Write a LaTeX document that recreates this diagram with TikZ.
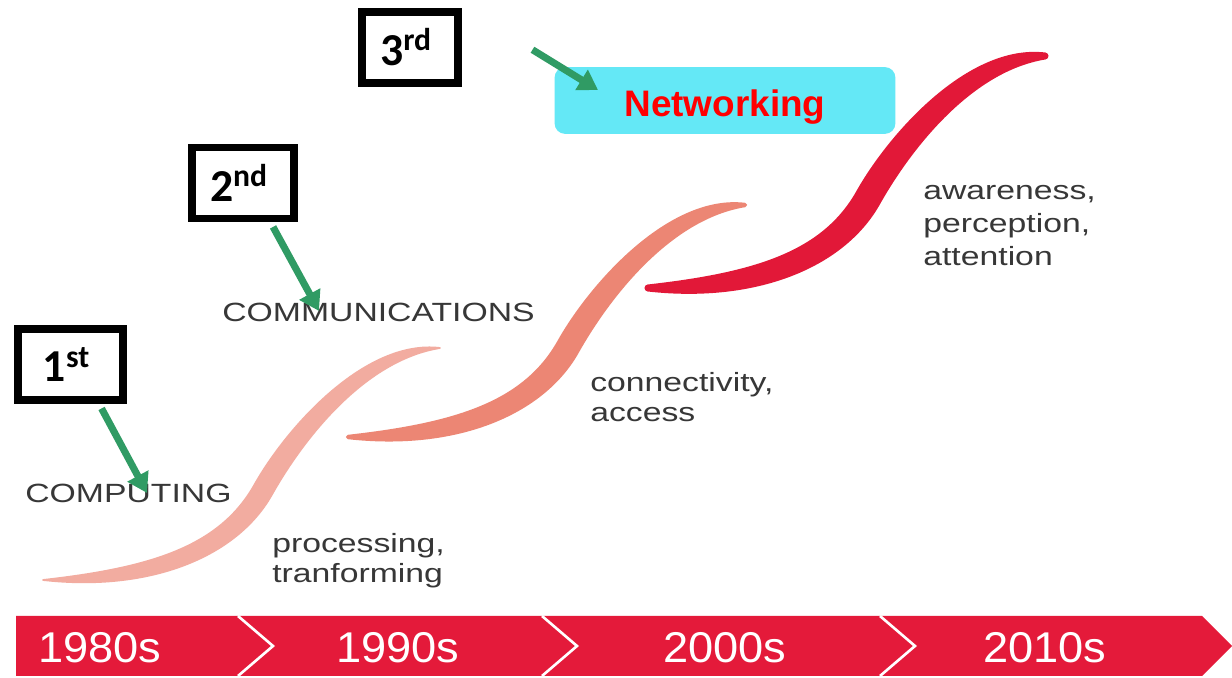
\documentclass[tikz,border=0pt]{standalone}
\usepackage{fontspec}
\setmainfont{Liberation Sans}
\newfontfamily\widefont[FakeStretch=1.28]{Liberation Sans}
\newfontfamily\yearfont[FakeStretch=1.05]{Liberation Sans}
\newfontfamily\boxfont{Carlito}
\usetikzlibrary{arrows.meta}

\definecolor{bandred}{RGB}{228,26,58}
\definecolor{swooshA}{RGB}{242,172,160}
\definecolor{swooshB}{RGB}{236,134,116}
\definecolor{swooshC}{RGB}{226,24,56}
\definecolor{arrowgreen}{RGB}{48,155,100}
\definecolor{txtgray}{RGB}{55,55,55}
\definecolor{netcyan}{RGB}{100,232,246}

\newcommand{\gen}[2]{#1\raisebox{8.5pt}{\fontsize{18}{18}\selectfont #2}\kern5pt}

\begin{document}
\begin{tikzpicture}[x=0.02cm, y=-0.02cm]
    \tikzstyle{genbox}=[draw=black, line width=4.25pt, fill=white, inner sep=0pt, minimum height=40.5pt, font=\boxfont\bfseries\fontsize{26}{26}\selectfont]
    \tikzstyle{genarrow}=[draw=arrowgreen, line width=4pt, shorten <=3pt, -{Triangle[length=11pt,width=13pt]}]
    \tikzstyle{era}=[anchor=base west, inner sep=0pt, text=txtgray, align=left, font=\widefont\fontsize{15}{17.5}\selectfont]
    \tikzstyle{year}=[inner sep=0pt, text=white, text depth=0pt, font=\yearfont\fontsize{24.5}{24.5}\selectfont]
    \tikzstyle{netbox}=[fill=netcyan, rounded corners=6pt, minimum width=194pt, minimum height=38pt, text=red, text height=18.7pt, text depth=0pt, font=\bfseries\fontsize{21}{21}\selectfont]

    \useasboundingbox (0,0) rectangle (1232,678);
    \fill[white] (0,0) rectangle (1232,678);

    % Draw the three waves
    \foreach \dx/\dy/\col/\lw in {0/0/swooshA/1, 305/-143/swooshB/2.5, 605/-292/swooshC/4}
        \filldraw[fill=\col, draw=\col, line width=\lw pt, line join=round, shift={(\dx,\dy)}]
            (43,580) .. controls (150,568) and (219.3,547.1) .. (254.3,485.1)
            .. controls (286.3,428.1) and (365,339) .. (440,348)
            .. controls (365,360) and (303.7,437.9) .. (271.7,494.9)
            .. controls (236.7,556.9) and (150,592) .. (43,580) -- cycle;

    % Time line
    \fill[bandred] (16,616) -- (1202,616) -- (1232,646) -- (1202,676) -- (16,676) -- cycle;
    \foreach \sx in {238,542,880}
        \draw[white, line width=1.5pt] (\sx,616) -- (\sx+35,646) -- (\sx,676);
    \node[year] (y80) at (100,647.5) {1980s};
    \node[year] (y90) at (398,647.5) {1990s};
    \node[year] (y00) at (725,647.5) {2000s};
    \node[year] (y10) at (1045,647.5) {2010s};

    % Annotate the waves
    \node[era] (comp) at (25,503) {COMPUTING};
    \node[era] (comm) at (222,322) {COMMUNICATIONS};
    \node[era] (proc) at (272,583) {processing,\\tranforming};
    \node[era] (conn) at (590,422) {connectivity,\\access};
    \node[era, font=\widefont\fontsize{15}{19}\selectfont] (aware) at (923,266) {awareness,\\perception,\\attention};

    % Generation boxes
    \node[genbox, minimum width=59.8pt] (g1) at (70.5,364.5) {\gen{1}{st}};
    \node[genbox, minimum width=58pt] (g2) at (243,183) {\gen{2}{nd}};
    \node[genbox, minimum width=54.7pt] (g3) at (410,47.5) {\gen{3}{rd}};

    % Networking label
    \node[netbox] (net) at (725,100.5) {Networking};

    % Arrows
    \coordinate (t1) at (147,493);
    \coordinate (t2) at (319,311);
    \coordinate (s3) at (528,47);
    \coordinate (t3) at (598,90);
    \draw[genarrow] (g1.-54) -- (t1);
    \draw[genarrow] (g2.-55) -- (t2);
    \draw[genarrow] (s3) -- (t3);
\end{tikzpicture}
\end{document}
